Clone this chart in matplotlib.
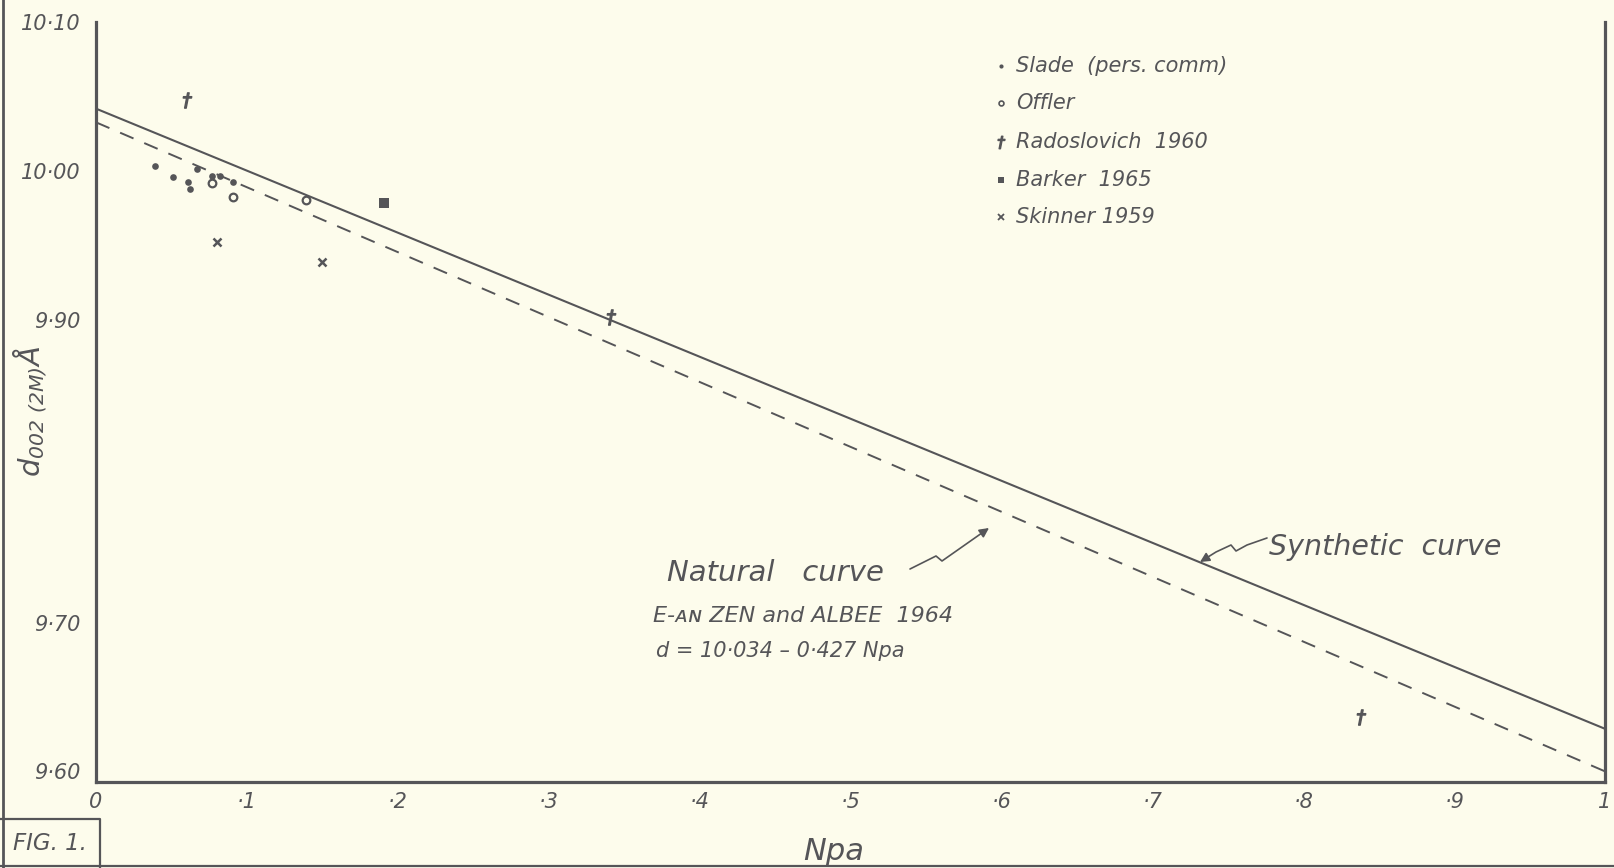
import matplotlib
matplotlib.use("Agg")
import matplotlib.pyplot as plt
import numpy as np
from matplotlib.path import Path
from matplotlib.patches import FancyArrowPatch
from matplotlib.lines import Line2D
from matplotlib.transforms import ScaledTranslation

# ---- data -------------------------------------------------------------
slade_x = [0.039, 0.051, 0.061, 0.062, 0.067, 0.077, 0.082, 0.091]
slade_y = [10.005, 9.998, 9.995, 9.990, 10.003, 9.999, 9.999, 9.995]

offler_x = [0.077, 0.091, 0.139]
offler_y = [9.994, 9.985, 9.983]

radoslovich_x = [0.060, 0.341, 0.838]
radoslovich_y = [10.049, 9.906, 9.643]

barker_x = [0.191]
barker_y = [9.981]

skinner_x = [0.080, 0.150]
skinner_y = [9.955, 9.942]

# natural curve (E-an Zen and Albee 1964): d = 10.034 - 0.427 Npa
natural_a, natural_b = 10.034, 0.427
# synthetic curve end values at Npa = 0 and 1
synthetic_npa = [0.0, 1.0]
synthetic_d = [10.043, 9.635]

x_ticks = [0, 0.1, 0.2, 0.3, 0.4, 0.5, 0.6, 0.7, 0.8, 0.9, 1.0]
x_ticklabels = ["0", "·1", "·2", "·3", "·4", "·5", "·6", "·7", "·8", "·9", "1"]
y_ticks = [10.10, 10.00, 9.90, 9.70, 9.60]
y_ticklabels = ["10·10", "10·00", "9·90", "9·70", "9·60"]

legend_names = ["Slade  (pers. comm)", "Offler", "Radoslovich  1960",
                "Barker  1965", "Skinner 1959"]

# ---- style ------------------------------------------------------------
INK = "#555558"
PAPER = "#fdfcec"
W, H = 1615, 868

plt.rcParams["font.family"] = ["DejaVu Sans"]
plt.rcParams["font.style"] = "italic"
plt.rcParams["mathtext.fontset"] = "dejavusans"
plt.rcParams["mathtext.default"] = "it"

fig = plt.figure(figsize=(W / 100, H / 100), dpi=100, facecolor=PAPER)
ax = fig.add_axes([96 / W, 1 - 782 / H, (1605 - 96) / W, (782 - 22) / H])
ax.set_facecolor(PAPER)
ax.set_xlim(0, 1)
ax.set_ylim(9.60, 10.10)

for side in ("left", "bottom", "right"):
    ax.spines[side].set_color(INK)
    ax.spines[side].set_linewidth(2.3)
ax.spines["top"].set_visible(False)

ax.set_xticks(x_ticks, x_ticklabels)
ax.set_yticks(y_ticks, y_ticklabels)
ax.tick_params(axis="both", length=0, colors=INK, labelsize=15)
ax.tick_params(axis="y", pad=11)
ax.tick_params(axis="x", pad=7)
for lab in ax.get_xticklabels() + ax.get_yticklabels():
    lab.set_fontstyle("italic")
# the hand-lettered values sit a little above their gridline
for lab, lift in zip(ax.get_yticklabels(), [0, 2, 4, 5, 8]):
    lab.set_transform(lab.get_transform() +
                      ScaledTranslation(0, lift / 72, fig.dpi_scale_trans))

# ---- curves -----------------------------------------------------------
npa = np.array([0.0, 1.0])
ax.plot(npa, natural_a - natural_b * npa, color=INK, lw=1.4,
        dashes=(7.5, 6), solid_capstyle="butt")
ax.plot(synthetic_npa, synthetic_d, color=INK, lw=1.5)

# ---- data points ------------------------------------------------------
ax.plot(slade_x, slade_y, ls="none", marker="o", ms=4.8, color=INK, mew=0)
ax.plot(offler_x, offler_y, ls="none", marker="o", ms=5.5, mfc=PAPER,
        mec=INK, mew=1.6)
ax.plot(radoslovich_x, radoslovich_y, ls="none", marker=r"$\dagger$",
        ms=11, color=INK)
ax.plot(barker_x, barker_y, ls="none", marker="s", ms=6.5, color=INK, mew=0)
ax.plot(skinner_x, skinner_y, ls="none", marker="x", ms=5.5, color=INK,
        mew=1.8)

# ---- key --------------------------------------------------------------
key_markers = [
    dict(marker="o", ms=3.0, color=INK, mew=0),
    dict(marker="o", ms=3.5, mfc=PAPER, mec=INK, mew=1.2),
    dict(marker=r"$\dagger$", ms=9, color=INK),
    dict(marker="s", ms=4, color=INK, mew=0),
    dict(marker="x", ms=4, color=INK, mew=1.3),
]
key_rows_px = [66, 103, 142, 180, 217]
for name, mk, py in zip(legend_names, key_markers, key_rows_px):
    fx, fy = 1001 / W, 1 - py / H
    fig.add_artist(Line2D([fx], [fy], ls="none", transform=fig.transFigure, **mk))
    fig.text(1016 / W, fy, name, color=INK, fontsize=15, style="italic",
             ha="left", va="center")

# ---- annotations ------------------------------------------------------
fig.text(775 / W, 1 - 573 / H, "Natural   curve", color=INK, fontsize=21,
         style="italic", ha="center", va="center")
fig.text(803 / W, 1 - 616 / H, "E-ᴀɴ ZEN and ALBEE  1964", color=INK,
         fontsize=16, style="italic", ha="center", va="center")
fig.text(780 / W, 1 - 651 / H, "d = 10·034 – 0·427 Npa", color=INK,
         fontsize=15, style="italic", ha="center", va="center")
fig.text(1269 / W, 1 - 547 / H, "Synthetic  curve", color=INK, fontsize=20.5,
         style="italic", ha="left", va="center")


def squiggle(points_px):
    verts = [(px / W, 1 - py / H) for px, py in points_px]
    codes = [Path.MOVETO] + [Path.LINETO] * (len(verts) - 1)
    arr = FancyArrowPatch(path=Path(verts, codes), arrowstyle="-|>",
                          mutation_scale=14, color=INK, lw=1.2,
                          transform=fig.transFigure)
    fig.add_artist(arr)


squiggle([(910, 569), (936, 556), (942, 561), (989, 528)])
squiggle([(1267, 538), (1247, 545), (1236, 551), (1231, 545), (1216, 552),
          (1200, 562)])

# ---- sheet frame ------------------------------------------------------
fig.add_artist(Line2D([3 / W, 3 / W], [0, 1], color=INK, lw=2.0,
                      transform=fig.transFigure))
fig.add_artist(Line2D([0, 1], [1 - 866 / H, 1 - 866 / H], color=INK, lw=1.6,
                      transform=fig.transFigure))
fig.add_artist(Line2D([0, 100 / W, 100 / W], [1 - 819 / H, 1 - 819 / H, 0],
                      color=INK, lw=1.6, transform=fig.transFigure))
fig.text(50 / W, 1 - 843 / H, "FIG. 1.", color=INK, fontsize=16.5,
         style="italic", ha="center", va="center")

# ---- axis titles ------------------------------------------------------
fig.text(30 / W, 1 - 411 / H, r"d$_{\mathregular{002\ (2M)}}$Å", color=INK,
         fontsize=21, style="italic", rotation=90, ha="center", va="center")
fig.text(834 / W, 1 - 851 / H, "Npa", color=INK, fontsize=22,
         style="italic", ha="center", va="center")

fig.savefig("out.png", dpi=100, facecolor=PAPER)
